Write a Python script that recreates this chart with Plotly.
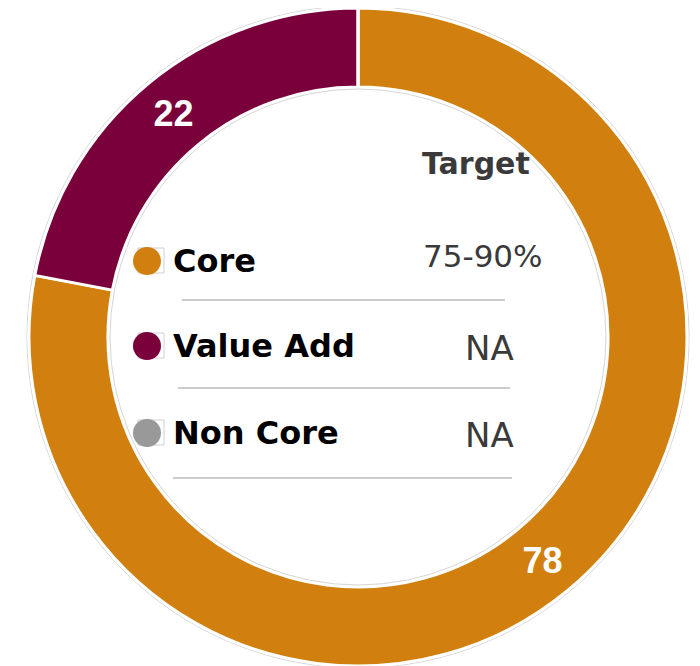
import plotly.graph_objects as go

categories = ["Core", "Value Add", "Non Core"]
values = [78, 22, 0]
targets = ["75-90%", "NA", "NA"]
colors = ["#D1800F", "#7A003C", "#999999"]
header = "Target"

W, H = 700, 666
OFF = 8  # default page body margin


def px(x):
    return (x - OFF) / W


def py(y):
    return 1 - (y - OFF) / H


fig = go.Figure()
fig.add_trace(go.Pie(
    labels=categories,
    values=values,
    hole=0.76,
    sort=False,
    direction="clockwise",
    rotation=0,
    marker=dict(colors=colors, line=dict(color="white", width=3)),
    textinfo="value",
    textposition="inside",
    insidetextorientation="horizontal",
    insidetextfont=dict(family="Liberation Sans", size=36, color="white", weight="bold"),
    domain=dict(x=[px(28), px(688)], y=[py(666), py(8)]),
    showlegend=False,
    hoverinfo="label+value",
))

shapes = []
cx, cy, R, r = 358, 337, 331, 248
shapes.append(dict(type="circle", xref="paper", yref="paper",
                   x0=px(cx - R), x1=px(cx + R), y0=py(cy + R), y1=py(cy - R),
                   line=dict(color="#d6d6d6", width=1), layer="below"))
shapes.append(dict(type="circle", xref="paper", yref="paper",
                   x0=px(cx - r), x1=px(cx + r), y0=py(cy + r), y1=py(cy - r),
                   line=dict(color="#d6d6d6", width=1), layer="above"))

row_y = [261, 346, 433]
sep = [(182, 505, 300), (178, 510, 388), (173, 512, 478)]
annotations = [dict(text="<b>" + header + "</b>", x=px(476), y=py(163), xref="paper", yref="paper",
                    showarrow=False, xanchor="center", yanchor="middle",
                    font=dict(family="DejaVu Sans", size=30, color="#3a3a3a"))]
for i, (cat, tgt, col) in enumerate(zip(categories, targets, colors)):
    yy = row_y[i]
    shapes.append(dict(type="rect", xref="paper", yref="paper",
                       x0=px(138), x1=px(164), y0=py(yy + 12), y1=py(yy - 13),
                       line=dict(color="#cfcfcf", width=1), fillcolor="white", layer="above"))
    shapes.append(dict(type="circle", xref="paper", yref="paper",
                       x0=px(133), x1=px(161), y0=py(yy + 14), y1=py(yy - 14),
                       line=dict(width=0), fillcolor=col, layer="above"))
    annotations.append(dict(text="<b>" + cat + "</b>", x=px(171), y=py(yy), xref="paper", yref="paper",
                            showarrow=False, xanchor="left", yanchor="middle",
                            font=dict(family="DejaVu Sans", size=32, color="#000000")))
    annotations.append(dict(text=tgt, x=px(483 if i == 0 else 489), y=py(yy - 5 if i == 0 else yy + 2),
                            xref="paper", yref="paper",
                            showarrow=False, xanchor="center", yanchor="middle",
                            font=dict(family="DejaVu Sans", size=31 if i == 0 else 34, color="#3a3a3a")))
for x0, x1, yy in sep:
    shapes.append(dict(type="line", xref="paper", yref="paper",
                       x0=px(x0), x1=px(x1), y0=py(yy), y1=py(yy),
                       line=dict(color="#cccccc", width=2), layer="above"))

fig.update_layout(
    width=W, height=H,
    margin=dict(l=0, r=0, t=0, b=0),
    paper_bgcolor="white", plot_bgcolor="white",
    shapes=shapes, annotations=annotations,
)

fig.write_html("out.html")
